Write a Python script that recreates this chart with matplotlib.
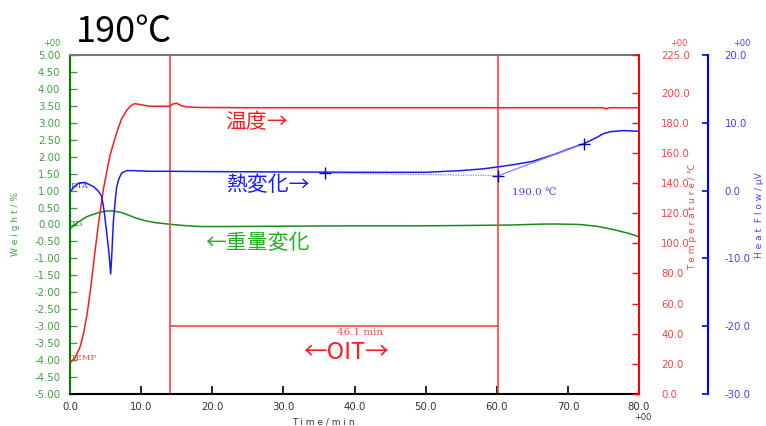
import numpy as np
import matplotlib
matplotlib.use('Agg')
import matplotlib.pyplot as plt

plt.rcParams['font.family'] = ['DejaVu Sans', 'Noto Sans CJK JP']

# temperature (deg C) vs time (min)
temp_t = [0.1, 0.7, 1.4, 1.9, 2.4, 2.9, 3.4, 4.0, 4.7, 5.6, 6.6, 7.2, 8.0, 8.6, 9.1, 10.0, 11.2, 12.5,
          14.0, 14.5, 15.0, 15.6, 16.4, 18.0, 25.0, 40.0, 60.0, 75.0, 75.4, 75.8, 80.0]
temp_v = [21, 24, 31, 40, 53, 70, 90, 113, 136, 158, 174, 182, 188.5, 191.5, 192.7, 192, 191, 191,
          191, 192.5, 193, 191.5, 190.5, 190.2, 190, 190, 190, 190, 189.2, 190, 190]

# DTA heat flow (uV)
dta_t = [0.1, 0.6, 1.2, 2.1, 2.7, 3.3, 3.75, 4.0, 4.46, 4.8, 5.16, 5.5, 5.72, 5.9, 6.09, 6.35, 6.57,
         6.9, 7.27, 8.0, 9.0, 11.0, 14.0, 20.0, 30.0, 40.0, 50.0, 55.0, 58.0, 60.2, 62.5, 65.0,
         68.0, 70.0, 72.2, 74.0, 75.0, 76.0, 77.8, 80.0]
dta_v = [-0.1, 0.6, 1.1, 1.2, 0.9, 0.6, 0.15, -0.1, -0.85, -3.0, -6.2, -9.5, -12.3, -9.0, -4.7, -1.5, 0.6,
         1.8, 2.6, 2.95, 2.95, 2.85, 2.85, 2.8, 2.75, 2.7, 2.7, 2.95, 3.2, 3.5, 3.85, 4.3,
         5.3, 6.1, 6.9, 7.8, 8.4, 8.7, 8.85, 8.75]

# TG weight change (%)
tg_t = [0.1, 1.0, 2.35, 3.3, 4.2, 5.2, 6.1, 7.3, 8.3, 9.4, 10.8, 12.2, 14.1, 16.0, 18.3, 22.0, 30.0,
        40.0, 49.0, 55.0, 62.0, 66.0, 68.0, 71.7, 74.0, 75.5, 77.0, 78.5, 80.0]
tg_v = [-0.11, 0.05, 0.23, 0.30, 0.36, 0.40, 0.40, 0.35, 0.27, 0.18, 0.10, 0.05, 0.006, -0.03, -0.06,
        -0.06, -0.05, -0.04, -0.04, -0.03, -0.015, 0.01, 0.015, 0.0, -0.05, -0.11, -0.18, -0.26, -0.36]

# OIT analysis
oit_start = 14.1
oit_end = 60.2
oit_level = -3.0
base_t = [35.9, 60.2]
base_v = [2.6, 2.2]
tang_t = [60.2, 72.2]
tang_v = [2.2, 6.9]

RED = '#ff1a1a'
BLUE = '#1a1aff'
GREEN = '#1a8a1a'
LGREEN = '#3aa53a'

fig = plt.figure(figsize=(7.66, 4.26), dpi=100)
ax = fig.add_axes([70 / 766, 32 / 426, 569 / 766, 339 / 426])
ax_t = ax.twinx()
ax_h = ax.twinx()

ax.set_xlim(0, 80)
ax.set_ylim(-5, 5)
ax_t.set_ylim(0, 225)
ax_h.set_ylim(-30, 20)

ax.plot(tg_t, tg_v, color=GREEN, lw=1.1)
ax_t.plot(temp_t, temp_v, color=RED, lw=1.1)
ax_h.plot(dta_t, dta_v, color=BLUE, lw=1.1)
ax_h.plot(base_t, base_v, color='#8080ff', lw=0.9, ls=(0, (1, 1)))
ax_h.plot(tang_t, tang_v, color='#8080ff', lw=0.9)
ax_h.plot([base_t[0], tang_t[0], tang_t[1]], [base_v[0], tang_v[0], tang_v[1]],
          ls='none', marker='+', ms=9, mew=1.0, color='#0000cc')

ax.axvline(oit_start, color='#ff4040', lw=1.2)
ax.axvline(oit_end, color='#ff4040', lw=1.2)
ax.plot([oit_start, oit_end], [oit_level, oit_level], color='#ff4040', lw=1.2)

# spines
for s in ['top', 'bottom', 'left', 'right']:
    ax_t.spines[s].set_visible(False)
    ax_h.spines[s].set_visible(False)
ax.spines['right'].set_visible(False)
ax.spines['top'].set_color('#777777')
ax.spines['top'].set_linewidth(1.5)
ax.spines['left'].set_color('#008000')
ax.spines['left'].set_linewidth(1.5)
ax.spines['bottom'].set_color('black')
ax.spines['bottom'].set_linewidth(1.5)
ax_t.spines['right'].set_visible(True)
ax_t.spines['right'].set_color('red')
ax_t.spines['right'].set_linewidth(1.5)
ax_h.spines['right'].set_visible(True)
ax_h.spines['right'].set_position(('outward', 49.7))
ax_h.spines['right'].set_color('blue')
ax_h.spines['right'].set_linewidth(1.5)

ax.set_xticks(np.arange(0, 81, 10))
ax.set_xticklabels(['%.1f' % v for v in np.arange(0, 81, 10)])
ax.set_yticks(np.arange(-5, 5.01, 0.5))
ax.set_yticklabels(['%.2f' % v for v in np.arange(-5, 5.01, 0.5)])
temp_ticks = [0, 20, 40, 60, 80, 100, 120, 140, 160, 180, 200, 225]
ax_t.set_yticks(temp_ticks)
ax_t.set_yticklabels(['%.1f' % v for v in temp_ticks])
hf_ticks = [-30, -20, -10, 0, 10, 20]
ax_h.set_yticks(hf_ticks)
ax_h.set_yticklabels(['%.1f' % v for v in hf_ticks])

ax.tick_params(axis='x', direction='in', length=6, width=1.2, colors='black', labelsize=7.3, pad=6,
               labelcolor='#333333')
ax.tick_params(axis='y', direction='in', length=5, width=1.0, colors=LGREEN, labelsize=7.3, pad=7)
ax_t.tick_params(axis='y', direction='in', length=5, width=1.0, colors='red', labelsize=7.3, pad=16,
                 labelcolor='#ff4040')
ax_h.tick_params(axis='y', direction='in', length=4, width=1.2, colors='blue', labelsize=7.3, pad=12,
                 labelcolor='#4040ff')

# axis titles and exponents
fig.text(15 / 766, 1 - 224 / 426, 'W e i g h t / %', rotation=90, color=LGREEN, fontsize=6.5,
         ha='center', va='center')
fig.text(693 / 766, 1 - 217 / 426, 'T e m p e r a t u r e / ℃', rotation=90, color='#ff4040',
         fontsize=6.5, ha='center', va='center', family=['DejaVu Sans', 'Noto Sans CJK JP'])
fig.text(760 / 766, 1 - 215 / 426, 'H e a t  F l o w / μV', rotation=90, color='#4040ff',
         fontsize=6.5, ha='center', va='center')
fig.text(323 / 766, 1 - 422 / 426, 'T i m e / m i n', color='#333333', fontsize=6.5,
         ha='center', va='center')
fig.text(52 / 766, 1 - 43 / 426, '+00', color=LGREEN, fontsize=6, ha='center', va='center')
fig.text(679 / 766, 1 - 43 / 426, '+00', color='#ff4040', fontsize=6, ha='center', va='center')
fig.text(742 / 766, 1 - 43 / 426, '+00', color='#4040ff', fontsize=6, ha='center', va='center')
fig.text(643 / 766, 1 - 418 / 426, '+00', color='#333333', fontsize=6, ha='center', va='center')

fig.text(76 / 766, 1 - 32 / 426, '190℃', fontsize=26, color='black', ha='left', va='center',
         family=['Noto Sans CJK JP'])

# annotations
jp = ['Noto Sans CJK JP']
ax.text(21.8, 3.02, '温度→', color=RED, fontsize=15, family=jp, ha='left', va='center')
ax.text(21.9, 1.17, '熱変化→', color=BLUE, fontsize=15, family=jp, ha='left', va='center')
ax.text(19.0, -0.55, '←重量変化', color='#22b022', fontsize=15, family=jp, ha='left', va='center')
ax.text(38.8, -3.79, '←OIT→', color=RED, fontsize=17, family=jp, ha='center', va='center')
ax.text(40.8, -3.2, '46.1 min', color='#ff4040', fontsize=7.5, family=['DejaVu Serif'],
        ha='center', va='center')
ax.text(62.1, 0.93, '190.0 ℃', color='#4040ff', fontsize=7.5,
        family=['DejaVu Serif', 'Noto Sans CJK JP'], ha='left', va='center')
ax.text(0.1, 1.14, 'DTA', color='#4040ff', fontsize=6, family=['DejaVu Serif'], ha='left', va='center')
ax.text(0.1, 0.0, 'TG', color=GREEN, fontsize=6, family=['DejaVu Serif'], ha='left', va='center')
ax.text(0.1, -3.94, 'TEMP', color='#ff4040', fontsize=6, family=['DejaVu Serif'], ha='left', va='center')

fig.savefig('out.png', dpi=100)
